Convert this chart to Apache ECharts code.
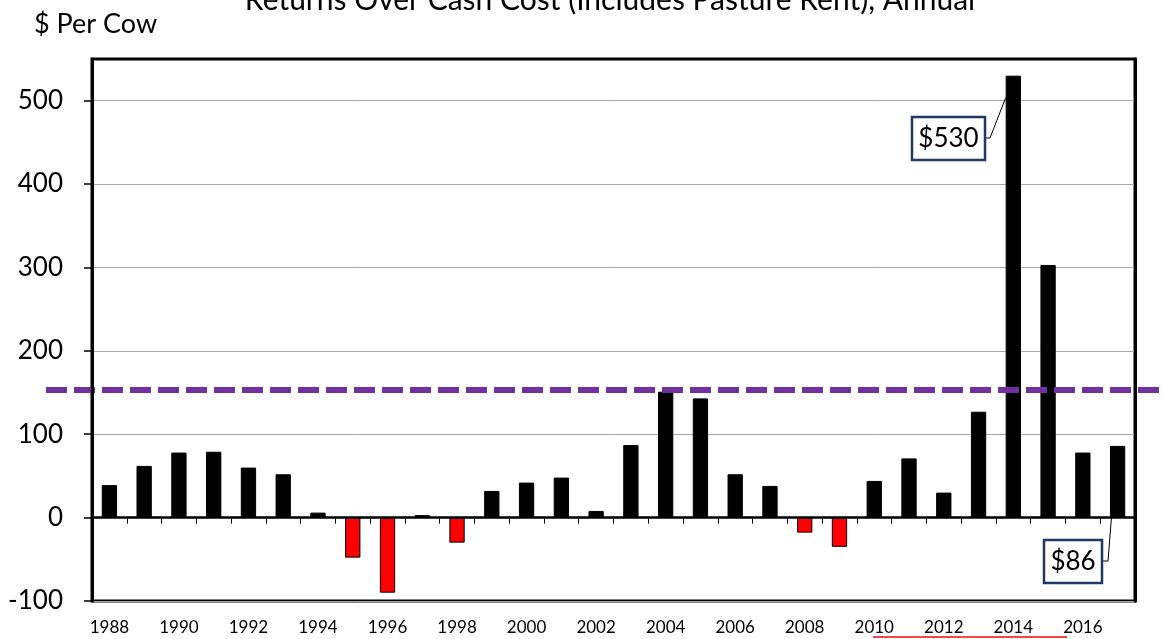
<!DOCTYPE html>
<html><head><meta charset="utf-8">
<script src="https://cdn.jsdelivr.net/npm/echarts@6/dist/echarts.min.js"></script>
<style>html,body{margin:0;padding:0;background:#fff}#c{width:1162px;height:639px}</style>
</head><body><div id="c"></div>
<script>
// ---- data ----
const years = ['1988','1989','1990','1991','1992','1993','1994','1995','1996','1997',
               '1998','1999','2000','2001','2002','2003','2004','2005','2006','2007',
               '2008','2009','2010','2011','2012','2013','2014','2015','2016','2017'];
const returns = [39, 62, 78, 79, 60, 52, 6, -48, -90, 3,
                 -30, 32, 42, 48, 8, 87, 151, 143, 52, 38,
                 -18, -35, 44, 71, 30, 127, 530, 303, 78, 86];
const referenceLine = 153;
const yTicks = [-100, 0, 100, 200, 300, 400, 500];
const yMin = -100, yMax = 550;
const titleText = 'Returns Over Cash Cost (Includes Pasture Rent), Annual';
const unitText = '$ Per Cow';
const calloutYears = ['2014', '2017'];

// ---- chart ----
const FONT = 'Lato, "Open Sans", sans-serif';
const chart = echarts.init(document.getElementById('c'), null, {renderer: 'canvas'});
const option = {
  animation: false,
  backgroundColor: '#fff',
  textStyle: {fontFamily: FONT},
  title: [
    {text: titleText, left: 610, textAlign: 'center', top: -15, padding: 0,
     textStyle: {fontFamily: FONT, fontSize: 30, fontWeight: 'normal', color: '#000'}},
    {text: unitText, left: 34, top: 11, padding: 0,
     textStyle: {fontFamily: FONT, fontSize: 27, fontWeight: 'normal', color: '#000'}}
  ],
  grid: {left: 92, top: 59, width: 1043, height: 542, show: true,
         borderColor: '#000', borderWidth: 3, backgroundColor: 'transparent', containLabel: false},
  xAxis: [
    {type: 'category', data: years, position: 'bottom', boundaryGap: true,
     axisLine: {show: false, onZero: false}, axisTick: {show: false},
     axisLabel: {interval: 1, margin: 18, fontSize: 17, color: '#000', fontFamily: FONT},
     splitLine: {show: false}},
    {type: 'category', data: years, position: 'bottom', boundaryGap: true,
     axisLine: {show: true, onZero: true, lineStyle: {color: '#000', width: 2.5}},
     axisTick: {show: true, interval: 0, length: 6, lineStyle: {color: '#000', width: 1}},
     axisLabel: {show: false}, splitLine: {show: false}, z: 3}
  ],
  yAxis: [
    {type: 'value', min: yMin, max: yMax, interval: 100, position: 'left',
     axisLine: {show: false},
     axisTick: {show: true, length: 8, customValues: yTicks, lineStyle: {color: '#000', width: 1.5}},
     axisLabel: {margin: 29, fontSize: 26, color: '#000', fontFamily: FONT, customValues: yTicks,
                 formatter: v => (yTicks.indexOf(v) >= 0 ? String(v) : '')},
     splitLine: {show: true, lineStyle: {color: '#A6A6A6', width: 1}}},
    {type: 'value', min: yMin, max: yMax, position: 'left', z: 10,
     axisLine: {show: true, onZero: false, lineStyle: {color: '#000', width: 3}},
     axisTick: {show: false}, axisLabel: {show: false}, splitLine: {show: false}},
    {type: 'value', min: yMin, max: yMax, position: 'right', z: 10,
     axisLine: {show: true, onZero: false, lineStyle: {color: '#000', width: 3}},
     axisTick: {show: false}, axisLabel: {show: false}, splitLine: {show: false}}
  ],
  series: [{
    type: 'bar', xAxisIndex: 0, yAxisIndex: 0, data: returns, barWidth: '44%',
    itemStyle: {
      color: p => (p.value < 0 ? '#FF0000' : '#000000'),
      borderColor: '#000', borderWidth: 1
    }
  }]
};
chart.setOption(option);

// ---- annotations placed through the chart's own scales ----
const cw = chart.convertToPixel({xAxisIndex: 0}, years[1]) - chart.convertToPixel({xAxisIndex: 0}, years[0]);
const half = cw * 0.22;
const yRef = chart.convertToPixel({yAxisIndex: 0}, referenceLine);
const y0 = chart.convertToPixel({yAxisIndex: 0}, 0);
const xa = chart.convertToPixel({xAxisIndex: 0}, calloutYears[0]);
const xb = chart.convertToPixel({xAxisIndex: 0}, calloutYears[1]);
const va = returns[years.indexOf(calloutYears[0])];
const vb = returns[years.indexOf(calloutYears[1])];
const ya = chart.convertToPixel({yAxisIndex: 0}, va * 0.95);
const boxStroke = '#1F3864';

chart.setOption({
  graphic: [
    {type: 'line', z: 5, silent: true,
     shape: {x1: 46, y1: yRef, x2: 1162, y2: yRef},
     style: {stroke: '#7030A0', lineWidth: 6, lineDash: [21, 7]}},
    // callout A
    {type: 'polyline', z: 20, shape: {points: [[985, 138], [990, 138], [xa - half, ya]]},
     style: {stroke: '#000', lineWidth: 1, fill: null}},
    {type: 'rect', z: 20, shape: {x: 912, y: 117, width: 73, height: 43},
     style: {fill: '#fff', stroke: boxStroke, lineWidth: 2.5}},
    {type: 'text', z: 21, x: 948.5, y: 139,
     style: {text: '$' + va, font: '26px ' + FONT, fill: '#000', align: 'center', verticalAlign: 'middle'}},
    // callout B
    {type: 'polyline', z: 20, shape: {points: [[1102, 561], [1108, 561], [xb - half + 1.5, y0]]},
     style: {stroke: '#000', lineWidth: 1, fill: null}},
    {type: 'rect', z: 20, shape: {x: 1044, y: 540, width: 58, height: 43},
     style: {fill: '#fff', stroke: boxStroke, lineWidth: 2.5}},
    {type: 'text', z: 21, x: 1073, y: 562,
     style: {text: '$' + vb, font: '26px ' + FONT, fill: '#000', align: 'center', verticalAlign: 'middle'}},
    // partial red outline at the bottom edge
    {type: 'line', z: 5, shape: {x1: 873, y1: 637, x2: 1067, y2: 637},
     style: {stroke: '#FF0000', lineWidth: 1.5}}
  ]
});
</script>
</body></html>
